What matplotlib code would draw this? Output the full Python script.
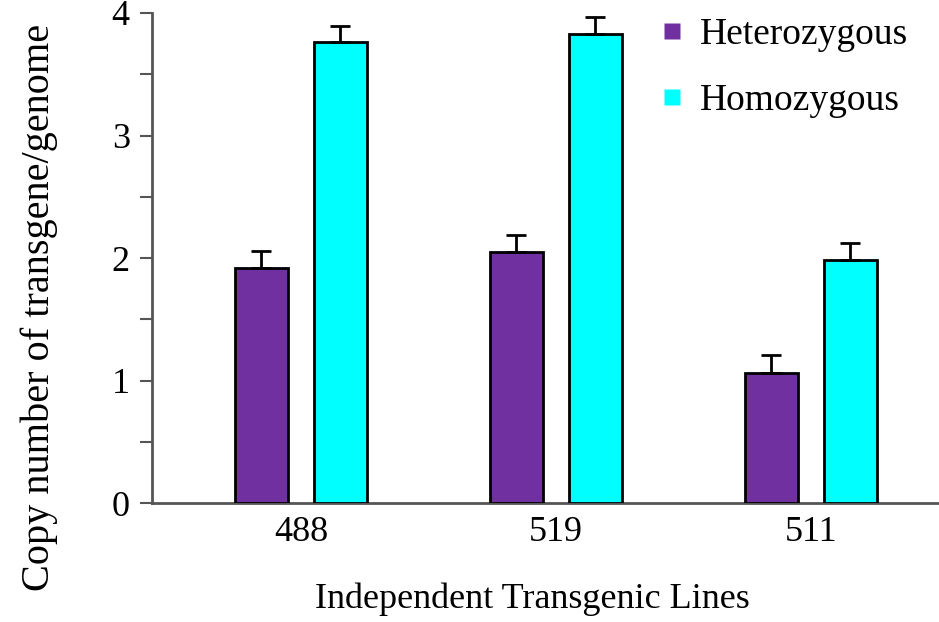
import matplotlib.pyplot as plt
import numpy as np
from matplotlib.lines import Line2D

plt.rcParams['font.family'] = ['Liberation Serif', 'DejaVu Serif']

# Copy number per line, mean and error
lines = ['488', '519', '511']
hetero = [1.92, 2.05, 1.06]
hetero_err = [0.14, 0.14, 0.15]
homo = [3.76, 3.83, 1.98]
homo_err = [0.13, 0.14, 0.14]

purple = '#7030A0'
cyan = '#00FFFF'

fig = plt.figure(figsize=(9.39, 6.22), dpi=100)
ax = fig.add_axes([0.1619, 0.1913, 0.838, 0.7878])

x = np.arange(len(lines))
w = 0.208
off = 0.155

err_kw = dict(ecolor='black', elinewidth=2, capsize=7, capthick=2)
ax.bar(x - off, hetero, w, color=purple, edgecolor='black', linewidth=2,
       yerr=[np.zeros(3), hetero_err], error_kw=err_kw, zorder=3)
ax.bar(x + off, homo, w, color=cyan, edgecolor='black', linewidth=2,
       yerr=[np.zeros(3), homo_err], error_kw=err_kw, zorder=3)

ax.set_xlim(-0.584, 2.502)
ax.set_ylim(0, 4)

for s in ['top', 'right']:
    ax.spines[s].set_visible(False)
for s in ['left', 'bottom']:
    ax.spines[s].set_color('#555555')
    ax.spines[s].set_linewidth(2)

ax.set_yticks([0, 1, 2, 3, 4])
ax.set_yticks(np.arange(0.5, 4, 1), minor=True)
ax.tick_params(axis='y', which='both', direction='out', length=9, width=1.5,
               color='#555555', labelsize=26, pad=7)
ax.set_xticks(x)
ax.set_xticklabels(lines)
ax.tick_params(axis='x', length=0, labelsize=26, pad=9)

ax.set_ylabel('Copy number of transgene/genome', fontsize=29)
ax.yaxis.set_label_coords(-0.12, 0.40)
ax.set_xlabel('Independent Transgenic Lines', fontsize=26)
ax.xaxis.set_label_coords(0.483, -0.163)

handles = [Line2D([], [], marker='s', linestyle='none', markersize=11,
                  markerfacecolor=purple, markeredgecolor='none'),
           Line2D([], [], marker='s', linestyle='none', markersize=11,
                  markerfacecolor=cyan, markeredgecolor='none')]
ax.legend(handles, ['Heterozygous', 'Homozygous'], loc='upper left',
          bbox_to_anchor=(0.599, 1.06), frameon=False, fontsize=27,
          handlelength=0.8, handletextpad=0.35, labelspacing=0.85)

fig.savefig('out.png', dpi=100)
